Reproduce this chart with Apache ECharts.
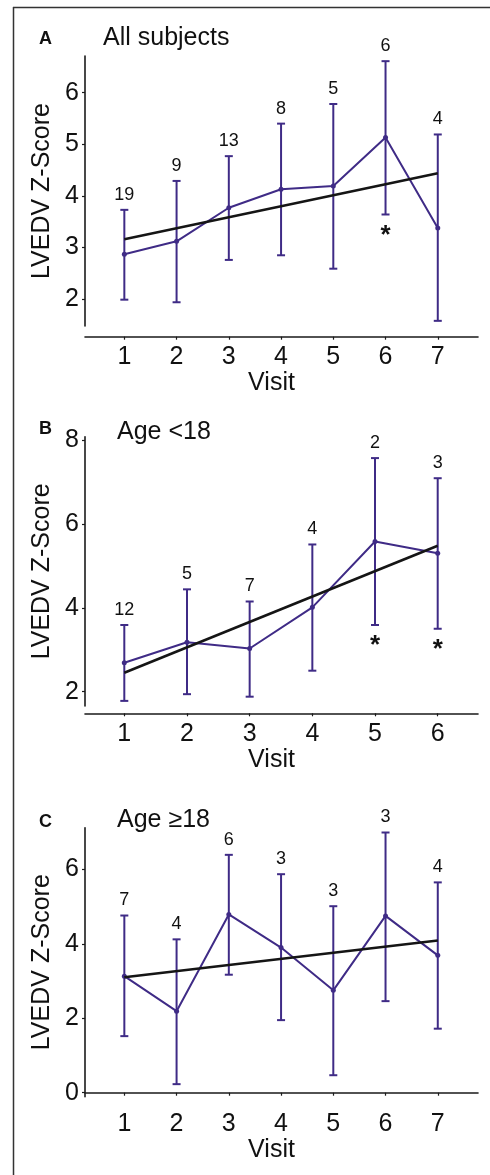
<!DOCTYPE html>
<html>
<head>
<meta charset="utf-8">
<script src="https://cdn.jsdelivr.net/npm/echarts@6/dist/echarts.min.js"></script>
<style>
html,body{margin:0;padding:0;background:#fff;}
#chart{width:490px;height:1175px;}
</style>
</head>
<body>
<div id="chart"></div>
<script>
// Panel A: All subjects
const visitsA = [1, 2, 3, 4, 5, 6, 7];
const meanA  = [2.87, 3.12, 3.77, 4.13, 4.19, 5.13, 3.38];
const upperA = [3.73, 4.29, 4.77, 5.40, 5.78, 6.61, 5.19];
const lowerA = [1.99, 1.94, 2.76, 2.85, 2.59, 3.64, 1.58];
const nA     = [19, 9, 13, 8, 5, 6, 4];
const starA  = [0, 0, 0, 0, 0, 1, 0];
const regA   = [[1, 3.16], [7, 4.44]];
const yTicksA = [2, 3, 4, 5, 6];

// Panel B: Age <18
const visitsB = [1, 2, 3, 4, 5, 6];
const meanB  = [2.69, 3.18, 3.03, 4.01, 5.58, 5.30];
const upperB = [3.59, 4.44, 4.15, 5.51, 7.57, 7.09];
const lowerB = [1.78, 1.94, 1.88, 2.50, 3.59, 3.50];
const nB     = [12, 5, 7, 4, 2, 3];
const starB  = [0, 0, 0, 0, 1, 1];
const regB   = [[1, 2.45], [6, 5.48]];
const yTicksB = [2, 4, 6, 8];

// Panel C: Age >=18
const visitsC = [1, 2, 3, 4, 5, 6, 7];
const meanC  = [3.13, 2.19, 4.79, 3.90, 2.75, 4.75, 3.69];
const upperC = [4.76, 4.12, 6.39, 5.87, 5.01, 6.99, 5.65];
const lowerC = [1.52, 0.23, 3.17, 1.95, 0.47, 2.46, 1.72];
const nC     = [7, 4, 6, 3, 3, 3, 4];
const starC  = [0, 0, 0, 0, 0, 0, 0];
const regC   = [[1, 3.10], [7, 4.09]];
const yTicksC = [0, 2, 4, 6];

const titles = ['All subjects', 'Age <18', 'Age \u226518'];
const letters = ['A', 'B', 'C'];
const xName = 'Visit';
const yName = 'LVEDV Z-Score';

const PURPLE = '#3f2b86';
const FONT = 'Liberation Sans, Arial, sans-serif';

const panels = [
  {visits: visitsA, mean: meanA, upper: upperA, lower: lowerA, n: nA, star: starA, reg: regA, yTicks: yTicksA,
   top: 56, height: 270, xOffset: 10.7, ymin: 1.48, ymax: 6.71, xmin: 0.247, xmax: 7.77},
  {visits: visitsB, mean: meanB, upper: upperB, lower: lowerB, n: nB, star: starB, reg: regB, yTicks: yTicksB,
   top: 436.7, height: 269.3, xOffset: 7.3, ymin: 1.658, ymax: 8.08, xmin: 0.373, xmax: 6.643},
  {visits: visitsC, mean: meanC, upper: upperC, lower: lowerC, n: nC, star: starC, reg: regC, yTicks: yTicksC,
   top: 827.7, height: 269, xOffset: 6.6, ymin: -0.107, ymax: 7.119, xmin: 0.247, xmax: 7.77}
];

const grids = [], xAxes = [], yAxes = [], series = [], titleComps = [];

function errRender(params, api) {
  const x = api.value(0), lo = api.value(1), hi = api.value(2), n = api.value(3), st = api.value(4);
  const pHi = api.coord([x, hi]);
  const pLo = api.coord([x, lo]);
  const sty = {stroke: PURPLE, lineWidth: 2};
  const children = [
    {type: 'line', shape: {x1: pHi[0], y1: pHi[1], x2: pLo[0], y2: pLo[1]}, style: sty},
    {type: 'line', shape: {x1: pHi[0] - 4, y1: pHi[1], x2: pHi[0] + 4, y2: pHi[1]}, style: sty},
    {type: 'line', shape: {x1: pLo[0] - 4, y1: pLo[1], x2: pLo[0] + 4, y2: pLo[1]}, style: sty},
    {type: 'text', x: pHi[0], y: pHi[1] - 6,
     style: {text: String(n), fill: '#111', font: '18px ' + FONT, textAlign: 'center', textVerticalAlign: 'bottom'}}
  ];
  if (st) {
    children.push({type: 'text', x: pLo[0], y: pLo[1] + 8,
      style: {text: '*', fill: '#111', font: 'bold 26px ' + FONT, textAlign: 'center', textVerticalAlign: 'top'}});
  }
  return {type: 'group', children: children};
}

panels.forEach((p, i) => {
  grids.push({left: 85, right: 12, top: p.top, height: p.height});
  xAxes.push({
    type: 'value', gridIndex: i, min: p.xmin, max: p.xmax, offset: p.xOffset,
    name: xName, nameLocation: 'middle', nameGap: 34,
    nameTextStyle: {fontSize: 25, color: '#111', fontFamily: FONT, padding: [0, 20, 0, 0]},
    axisLine: {show: true, lineStyle: {color: '#1a1a1a', width: 1.6}},
    axisTick: {show: true, length: 3, lineStyle: {color: '#1a1a1a', width: 1.2}, customValues: p.visits},
    axisLabel: {fontSize: 25, color: '#111', fontFamily: FONT, margin: 8, customValues: p.visits},
    splitLine: {show: false}
  });
  yAxes.push({
    type: 'value', gridIndex: i, min: p.ymin, max: p.ymax,
    name: yName, nameLocation: 'middle', nameGap: 28, nameRotate: 90,
    nameTextStyle: {fontSize: 25, color: '#111', fontFamily: FONT},
    axisLine: {show: true, lineStyle: {color: '#1a1a1a', width: 1.6}},
    axisTick: {show: true, length: 3, lineStyle: {color: '#1a1a1a', width: 1.2}, customValues: p.yTicks},
    axisLabel: {fontSize: 25, color: '#111', fontFamily: FONT, margin: 6, customValues: p.yTicks},
    splitLine: {show: false}
  });
  const errData = p.visits.map((v, k) => [v, p.lower[k], p.upper[k], p.n[k], p.star[k]]);
  series.push({
    type: 'custom', xAxisIndex: i, yAxisIndex: i, renderItem: errRender, data: errData,
    encode: {x: 0, y: [1, 2]}, clip: false, z: 2, silent: true
  });
  series.push({
    type: 'line', xAxisIndex: i, yAxisIndex: i,
    data: p.visits.map((v, k) => [v, p.mean[k]]),
    symbol: 'circle', symbolSize: 5, showSymbol: true,
    lineStyle: {color: PURPLE, width: 2}, itemStyle: {color: PURPLE},
    z: 3, silent: true, animation: false
  });
  series.push({
    type: 'line', xAxisIndex: i, yAxisIndex: i, data: p.reg,
    symbol: 'none', lineStyle: {color: '#151515', width: 2.6}, z: 4, silent: true, animation: false
  });
});

const titleTops = [26, 420, 808];
const titleLefts = [103, 117, 117];
const letterTops = [30, 420, 813];
titleTops.forEach((t, i) => {
  titleComps.push({text: titles[i], left: titleLefts[i], top: t,
    textStyle: {fontSize: 25, fontWeight: 'normal', color: '#111', fontFamily: FONT}, padding: 0});
  titleComps.push({text: letters[i], left: 39, top: letterTops[i],
    textStyle: {fontSize: 18, fontWeight: 'bold', color: '#111', fontFamily: FONT}, padding: 0});
});

const chart = echarts.init(document.getElementById('chart'), null, {renderer: 'canvas'});
chart.setOption({
  animation: false,
  backgroundColor: '#fff',
  title: titleComps,
  grid: grids,
  xAxis: xAxes,
  yAxis: yAxes,
  series: series,
  graphic: [
    {type: 'line', shape: {x1: 13.5, y1: 7, x2: 13.5, y2: 1175}, style: {stroke: '#333', lineWidth: 1.5}},
    {type: 'line', shape: {x1: 13, y1: 7.5, x2: 490, y2: 7.5}, style: {stroke: '#333', lineWidth: 1.5}}
  ]
});
</script>
</body>
</html>
